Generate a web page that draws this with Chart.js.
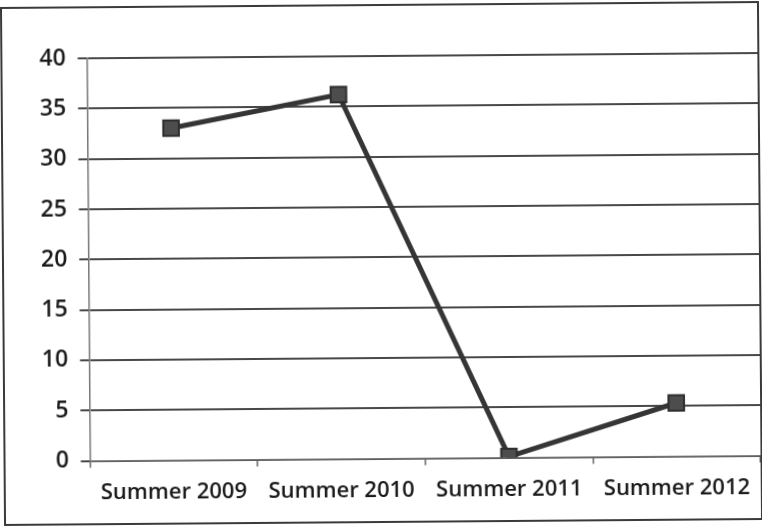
<!DOCTYPE html>
<html>
<head>
<meta charset="utf-8">
<script src="https://cdn.jsdelivr.net/npm/chart.js@4"></script>
<style>
  html, body { margin: 0; padding: 0; background: #fff; }
  body { width: 762px; height: 531px; overflow: hidden; }
  #frame {
    position: absolute; left: 2px; top: 4px; width: 755px; height: 515px;
    border: 2px solid #3a3a3a; background: #fff; overflow: hidden;
    transform: rotate(-0.45deg); transform-origin: 50% 50%;
    filter: blur(0.4px);
  }
  #chart { display: block; }
</style>
</head>
<body>
<div id="frame"><canvas id="chart" width="768" height="515"></canvas></div>
<script>
// seasons on the x axis
const seasons = ['Summer 2009', 'Summer 2010', 'Summer 2011', 'Summer 2012'];
// one value per season
const counts = [33, 36.2, 0.1, 5.3];
// y axis runs 0..40 in steps of 5
const yMin = 0;
const yMax = 40;
const yStep = 5;

const ink = '#353535';

new Chart(document.getElementById('chart').getContext('2d'), {
    type: 'line',
    data: {
        labels: seasons,
        datasets: [{
            data: counts,
            borderColor: ink,
            borderWidth: 5,
            pointStyle: 'rect',
            pointRadius: 11,
            pointHoverRadius: 11,
            pointBackgroundColor: '#4d4d4d',
            pointBorderColor: '#2e2e2e',
            pointBorderWidth: 2,
            tension: 0
        }]
    },
    options: {
        responsive: false, animation: false,
        layout: { padding: { left: 25, right: 0, top: 50, bottom: 5 } },
        plugins: { legend: { display: false }, tooltip: { enabled: false } },
        scales: {
            x: {
                offset: true,
                grid: { offset: true, drawOnChartArea: false, color: '#666', tickLength: 7, lineWidth: 1.5 },
                border: { color: '#777', width: 1.5 },
                ticks: { color: '#1a1a1a', font: { family: 'Open Sans', size: 22, weight: '600' }, padding: 12 }
            },
            y: {
                min: yMin, max: yMax,
                grid: { color: '#484848', lineWidth: 2, tickLength: 9 },
                border: { color: '#777', width: 1.5 },
                ticks: { stepSize: yStep, color: '#1a1a1a', font: { family: 'Open Sans', size: 23, weight: '600' }, padding: 12 }
            }
        }
    }
});
</script>
</body>
</html>
